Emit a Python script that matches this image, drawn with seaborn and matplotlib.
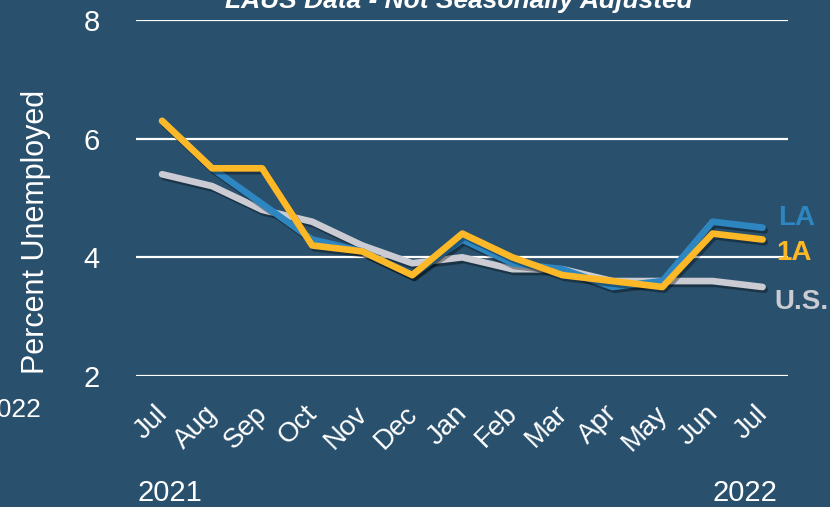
import pandas as pd
import numpy as np
import matplotlib
matplotlib.use("Agg")
import matplotlib.pyplot as plt
import matplotlib.patheffects as pe
import matplotlib.transforms as mtransforms
import seaborn as sns

# data (percent unemployed, LAUS, not seasonally adjusted)
months = ["Jul", "Aug", "Sep", "Oct", "Nov", "Dec", "Jan", "Feb", "Mar", "Apr", "May", "Jun", "Jul"]
la_rate = [6.3, 5.5, 4.9, 4.3, 4.1, 3.7, 4.3, 3.9, 3.8, 3.5, 3.6, 4.6, 4.5]
ia_rate = [6.3, 5.5, 5.5, 4.2, 4.1, 3.7, 4.4, 4.0, 3.7, 3.6, 3.5, 4.4, 4.3]
us_rate = [5.4, 5.2, 4.8, 4.6, 4.2, 3.9, 4.0, 3.8, 3.8, 3.6, 3.6, 3.6, 3.5]
y_ticks = [2, 4, 6, 8]
series_names = ["U.S.", "LA", "1A"]

title = "LAUS Data - Not Seasonally Adjusted"
y_label = "Percent Unemployed"

bg = "#29506d"
palette = {"LA": "#2e86c1", "1A": "#fdb827", "U.S.": "#cbccd3"}

sns.set_style("dark", {"axes.facecolor": bg, "figure.facecolor": bg})
plt.rcParams["font.family"] = ["Liberation Sans", "DejaVu Sans"]

pos = np.arange(len(months))
df = pd.DataFrame({"pos": pos, "LA": la_rate, "1A": ia_rate, "U.S.": us_rate})
df_long = df.melt(id_vars=["pos"], value_vars=series_names, var_name="Area", value_name="Rate")

fig = plt.figure(figsize=(8.3, 5.07), dpi=100)
ax = fig.add_axes([0.1639, 0.2584, 0.785, 0.7022])

sns.lineplot(data=df_long, x="pos", y="Rate", hue="Area", hue_order=series_names,
             palette=palette, linewidth=4.8, legend=False, ax=ax)

for line in ax.get_lines():
    line.set_solid_capstyle("round")
    line.set_path_effects([pe.SimpleLineShadow(offset=(1.5, -2), shadow_color="black", alpha=0.35),
                           pe.Normal()])

for y in y_ticks:
    ax.axhline(y, color="white", linewidth=1.6, zorder=0.5)

ax.set_ylim(2, 8)
ax.set_xlim(-0.52, 12.5)
ax.set_yticks(y_ticks)
ax.set_yticklabels([str(t) for t in y_ticks], color="white", fontsize=21)
ax.set_xticks(pos)
ax.set_xticklabels(months, rotation=45, ha="right", rotation_mode="anchor",
                   color="white", fontsize=20)
ax.tick_params(axis="y", length=0, pad=26)
ax.tick_params(axis="x", length=0, pad=17)

# nudge month labels a little to the left
shift = mtransforms.ScaledTranslation(-8 / 100, -1 / 100, fig.dpi_scale_trans)
for lbl in ax.get_xticklabels():
    lbl.set_transform(lbl.get_transform() + shift)

ax.grid(False)
for s in ax.spines.values():
    s.set_visible(False)

ax.set_xlabel("")
ax.set_ylabel(y_label, color="white", fontsize=22)
ax.yaxis.set_label_coords(-0.13, 0.404)

# end labels for each series
last = len(months) - 1
ax.text(last + 0.32, la_rate[-1] + 0.17, "LA", color=palette["LA"], fontsize=20,
        fontweight="bold", va="center", ha="left")
ax.text(last + 0.28, ia_rate[-1] - 0.22, "1A", color=palette["1A"], fontsize=20,
        fontweight="bold", va="center", ha="left")
ax.text(last + 0.24, us_rate[-1] - 0.26, "U.S.", color=palette["U.S."], fontsize=20,
        fontweight="bold", va="center", ha="left")

fig.text(0.553, 0.984, title, color="white", fontsize=19, fontweight="bold",
         fontstyle="italic", ha="center", va="baseline")
fig.text(0.205, 0.011, "2021", color="white", fontsize=21, ha="center", va="baseline")
fig.text(0.898, 0.011, "2022", color="white", fontsize=21, ha="center", va="baseline")
fig.text(0.05, 0.1775, "2022", color="white", fontsize=19, ha="right", va="baseline")

fig.savefig("out.png", dpi=100, facecolor=bg)
